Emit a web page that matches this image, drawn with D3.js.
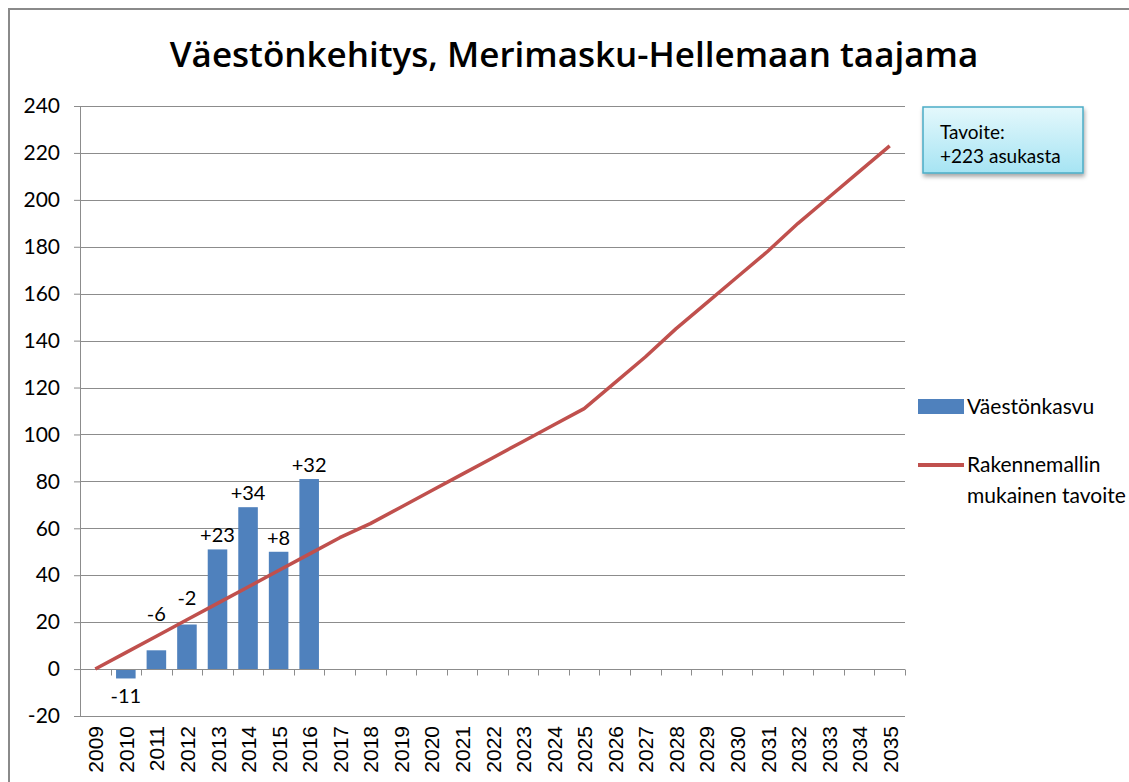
<!DOCTYPE html>
<html>
<head>
<meta charset="utf-8">
<script src="https://cdn.jsdelivr.net/npm/d3@7"></script>
<style>
  body { margin: 0; background: #fff; }
  svg { display: block; }
</style>
</head>
<body>
<div id="chart"></div>
<script>
// chart data
var years = ["2009","2010","2011","2012","2013","2014","2015","2016","2017","2018","2019","2020","2021","2022",
             "2023","2024","2025","2026","2027","2028","2029","2030","2031","2032","2033","2034","2035"];
var barYears = ["2010","2011","2012","2013","2014","2015","2016"];
var barValues = [-4, 8, 19, 51, 69, 50, 81];
var barLabels = ["-11", "-6", "-2", "+23", "+34", "+8", "+32"];
var targetValues = [0, 7, 14, 21, 28, 35, 42, 49, 56, 62, 69, 76, 83, 90, 97, 104, 111,
                    122, 133, 145, 156, 167, 178, 190, 201, 212, 223];
var yTicks = [-20, 0, 20, 40, 60, 80, 100, 120, 140, 160, 180, 200, 220, 240];
var seriesNames = ["Väestönkasvu", ["Rakennemallin", "mukainen tavoite"]];
var titleText = "Väestönkehitys, Merimasku-Hellemaan taajama";
var noteLines = ["Tavoite:", "+223 asukasta"];

var W = 1129, H = 782;
var margin = { top: 106, right: 224, bottom: 66, left: 80 },
    width = W - margin.left - margin.right,
    height = H - margin.top - margin.bottom;

var barColor = "#4f81bd", lineColor = "#c0504d", gridColor = "#8c8c8c";
var font = "Lato, 'Open Sans', sans-serif";

var svg = d3.select("#chart").append("svg")
    .attr("width", W)
    .attr("height", H);

// outer frame
svg.append("rect")
    .attr("x", 9).attr("y", 9)
    .attr("width", W + 20).attr("height", H + 20)
    .attr("fill", "none")
    .attr("stroke", "#8a8a8a")
    .attr("stroke-width", 2);

var defs = svg.append("defs");
var grad = defs.append("linearGradient").attr("id", "noteFill")
    .attr("x1", 0).attr("y1", 0).attr("x2", 0).attr("y2", 1);
grad.append("stop").attr("offset", "0%").attr("stop-color", "#e4f8fc");
grad.append("stop").attr("offset", "100%").attr("stop-color", "#a6e4f3");
var shadow = defs.append("filter").attr("id", "shadow")
    .attr("x", "-20%").attr("y", "-20%").attr("width", "140%").attr("height", "150%");
shadow.append("feDropShadow")
    .attr("dx", 1).attr("dy", 3).attr("stdDeviation", 2)
    .attr("flood-color", "#000").attr("flood-opacity", 0.35);

// title
svg.append("text")
    .attr("x", 574).attr("y", 67)
    .attr("text-anchor", "middle")
    .style("font-family", "'Open Sans', Lato, sans-serif")
    .style("font-weight", "600")
    .style("font-size", "35px")
    .text(titleText);

var g = svg.append("g")
    .attr("transform", "translate(" + margin.left + "," + margin.top + ")");

// scales
var x = d3.scaleBand().domain(years).range([0, width]).paddingInner(0.36).paddingOuter(0.18);
var xPoint = d3.scalePoint().domain(years).range([x.bandwidth() / 2 + x(years[0]),
                                                  x(years[years.length - 1]) + x.bandwidth() / 2]);
var y = d3.scaleLinear().domain([-20, 240]).range([height, 0]);
var step = width / years.length;

// gridlines
g.append("g").selectAll("line")
    .data(yTicks)
    .enter().append("line")
    .attr("x1", 0).attr("x2", width)
    .attr("y1", function (d) { return Math.round(y(d)) + 0.5; })
    .attr("y2", function (d) { return Math.round(y(d)) + 0.5; })
    .attr("stroke", gridColor)
    .attr("stroke-width", 1);

// y axis
var yAxis = g.append("g")
    .call(d3.axisLeft(y).tickValues(yTicks).tickSize(6).tickPadding(14)
        .tickFormat(function (d) { return String(d); }));
yAxis.select(".domain").attr("stroke", gridColor);
yAxis.selectAll(".tick line").attr("stroke", gridColor);
yAxis.selectAll("text")
    .style("font-family", font)
    .style("font-size", "21px")
    .attr("fill", "#000");

// bars
g.selectAll(".bar")
    .data(barValues)
    .enter().append("rect")
    .attr("class", "bar")
    .attr("x", function (d, i) { return x(barYears[i]); })
    .attr("width", x.bandwidth())
    .attr("y", function (d) { return y(Math.max(0, d)); })
    .attr("height", function (d) { return Math.abs(y(d) - y(0)); })
    .attr("fill", barColor);

// x axis on the zero line, ticks between categories
var zeroY = Math.round(y(0)) + 0.5;
g.append("line")
    .attr("x1", 0).attr("x2", width)
    .attr("y1", zeroY).attr("y2", zeroY)
    .attr("stroke", gridColor);
g.append("g").selectAll("line")
    .data(years)
    .enter().append("line")
    .attr("x1", function (d, i) { return Math.round((i + 1) * step) + 0.5; })
    .attr("x2", function (d, i) { return Math.round((i + 1) * step) + 0.5; })
    .attr("y1", zeroY).attr("y2", zeroY + 6)
    .attr("stroke", gridColor);

// x labels rotated below the plot
g.append("g").selectAll("text")
    .data(years)
    .enter().append("text")
    .attr("transform", function (d) {
        return "translate(" + (xPoint(d) + 8) + "," + (height + 10) + ") rotate(-90)";
    })
    .attr("text-anchor", "end")
    .style("font-family", "Arial, 'Liberation Sans', sans-serif")
    .style("font-size", "21px")
    .text(function (d) { return d; });

// target line
var valueline = d3.line()
    .x(function (d, i) { return xPoint(years[i]); })
    .y(function (d) { return y(d); });
g.append("path")
    .datum(targetValues)
    .attr("d", valueline)
    .attr("fill", "none")
    .attr("stroke", lineColor)
    .attr("stroke-width", 3.5)
    .attr("stroke-linejoin", "round");

// bar labels, lifted clear of the target line where it passes above the bar
g.selectAll(".lbl")
    .data(barValues)
    .enter().append("text")
    .attr("class", "lbl")
    .attr("x", function (d, i) { return x(barYears[i]) + x.bandwidth() / 2; })
    .attr("y", function (d, i) {
        if (d < 0) return y(d) + 25;
        var t = targetValues[years.indexOf(barYears[i])];
        return t > d ? y(t) - 15 : y(d) - 7;
    })
    .attr("text-anchor", "middle")
    .style("font-family", font)
    .style("font-size", "20px")
    .text(function (d, i) { return barLabels[i]; });

// legend
var lg = svg.append("g").attr("transform", "translate(918,0)");
lg.append("rect")
    .attr("x", 0).attr("y", 399).attr("width", 46).attr("height", 15)
    .attr("fill", barColor);
lg.append("text")
    .attr("x", 49).attr("y", 414)
    .style("font-family", font).style("font-size", "21px")
    .text(seriesNames[0]);
lg.append("line")
    .attr("x1", 0).attr("x2", 46).attr("y1", 465).attr("y2", 465)
    .attr("stroke", lineColor).attr("stroke-width", 4);
lg.selectAll(".l2")
    .data(seriesNames[1])
    .enter().append("text")
    .attr("x", 49)
    .attr("y", function (d, i) { return 472 + i * 31; })
    .style("font-family", font).style("font-size", "21px")
    .text(function (d) { return d; });

// target note box
var note = svg.append("g").attr("transform", "translate(923,107)");
note.append("rect")
    .attr("width", 160).attr("height", 66)
    .attr("fill", "url(#noteFill)")
    .attr("stroke", "#4bacc6")
    .attr("stroke-width", 1.5)
    .attr("filter", "url(#shadow)");
note.selectAll("text")
    .data(noteLines)
    .enter().append("text")
    .attr("x", 17)
    .attr("y", function (d, i) { return 32 + i * 24; })
    .style("font-family", font).style("font-size", "19px")
    .text(function (d) { return d; });
</script>
</body>
</html>
